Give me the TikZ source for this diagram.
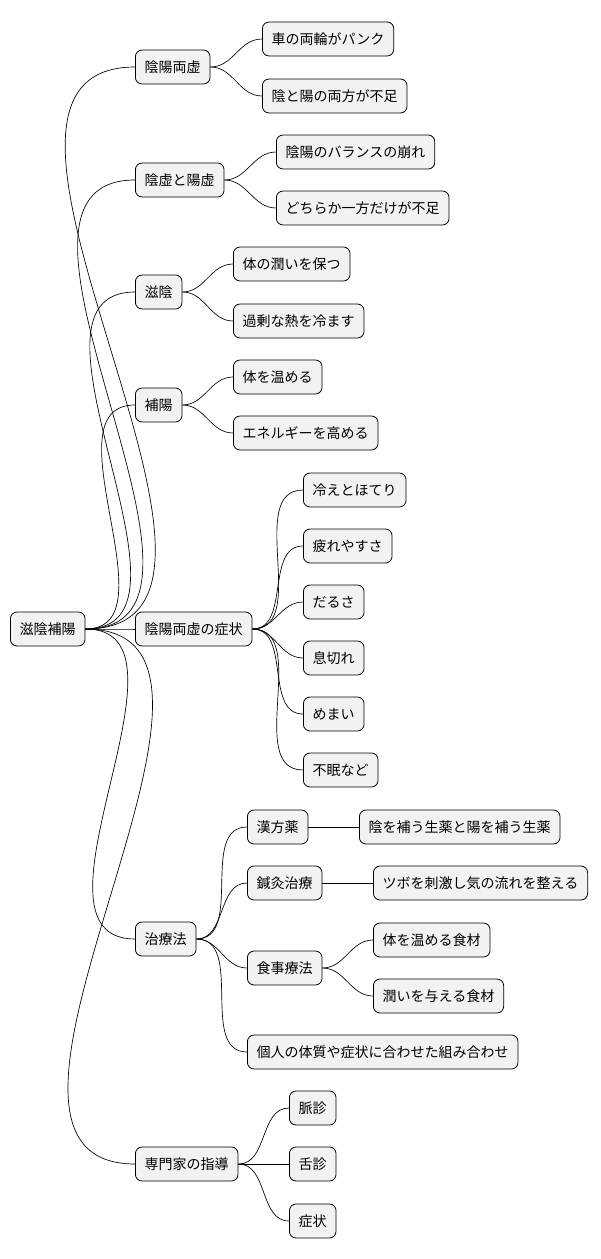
\documentclass[tikz,border=0pt]{standalone}
\usepackage{fontspec}
\newfontfamily\cjk{Noto Sans CJK JP}
\begin{document}
\begin{tikzpicture}[x=0.75pt,y=-0.75pt,
  box/.style={draw=black,fill=gray!10,rounded corners=5pt,minimum height=25.5pt,inner xsep=7pt,anchor=west,font=\cjk\fontsize{10.5}{12}\selectfont,line width=0.6pt},
  lk/.style={draw=black,line width=0.5pt}]
\useasboundingbox (0,0) rectangle (600,1259);
\node[box] (r) at (10,629) {滋陰補陽};
\node[box] (a) at (135,67) {陰陽両虚};
\node[box] (b) at (135,180) {陰虚と陽虚};
\node[box] (c) at (135,292) {滋陰};
\node[box] (d) at (135,405) {補陽};
\node[box] (e) at (135,629) {陰陽両虚の症状};
\node[box] (f) at (135,939) {治療法};
\node[box] (g) at (135,1164) {専門家の指導};
\node[box] (a1) at (262,39) {車の両輪がパンク};
\node[box] (a2) at (262,96) {陰と陽の両方が不足};
\node[box] (b1) at (276,152) {陰陽のバランスの崩れ};
\node[box] (b2) at (276,208) {どちらか一方だけが不足};
\node[box] (c1) at (233,264) {体の潤いを保つ};
\node[box] (c2) at (233,321) {過剰な熱を冷ます};
\node[box] (d1) at (233,377) {体を温める};
\node[box] (d2) at (233,433) {エネルギーを高める};
\node[box] (e1) at (303,490) {冷えとほてり};
\node[box] (e2) at (303,546) {疲れやすさ};
\node[box] (e3) at (303,602) {だるさ};
\node[box] (e4) at (303,658) {息切れ};
\node[box] (e5) at (303,714) {めまい};
\node[box] (e6) at (303,770) {不眠など};
\node[box] (f1) at (247,827) {漢方薬};
\node[box] (f2) at (247,883) {鍼灸治療};
\node[box] (f3) at (247,968) {食事療法};
\node[box] (f4) at (247,1052) {個人の体質や症状に合わせた組み合わせ};
\node[box] (g1) at (289,1108) {脈診};
\node[box] (g2) at (289,1164) {舌診};
\node[box] (g3) at (289,1221) {症状};
\node[box] (f11) at (359,827) {陰を補う生薬と陽を補う生薬};
\node[box] (f21) at (373,883) {ツボを刺激し気の流れを整える};
\node[box] (f31) at (373,940) {体を温める食材};
\node[box] (f32) at (373,996) {潤いを与える食材};
\foreach \p/\c in {r/a,r/b,r/c,r/d,r/e,r/f,r/g,a/a1,a/a2,b/b1,b/b2,c/c1,c/c2,d/d1,d/d2,e/e1,e/e2,e/e3,e/e4,e/e5,e/e6,f/f1,f/f2,f/f3,f/f4,g/g1,g/g2,g/g3,f1/f11,f2/f21,f3/f31,f3/f32}
  \draw[lk] (\p.east) to[out=0,in=180] (\c.west);
\end{tikzpicture}
\end{document}
